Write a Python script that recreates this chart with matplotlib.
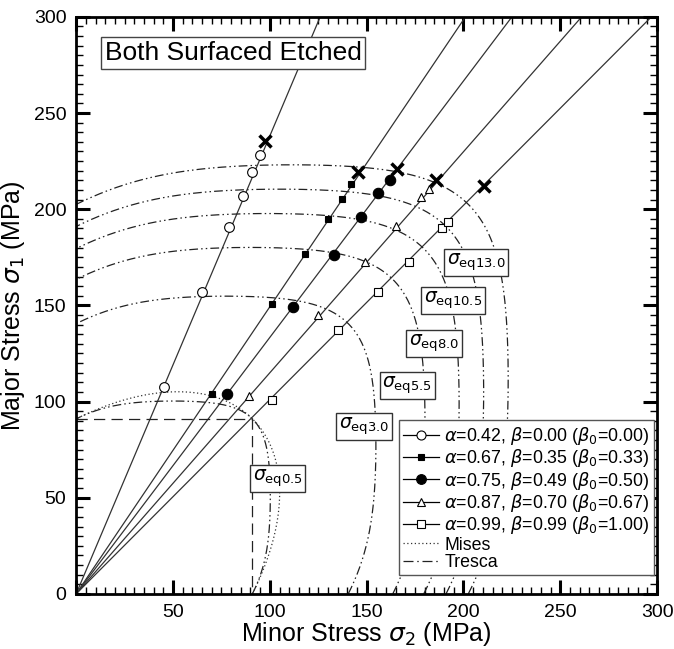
import numpy as np
import matplotlib
matplotlib.use('Agg')
import matplotlib.pyplot as plt
from matplotlib.lines import Line2D

# loading ratios (sigma2 / sigma1) and biaxiality for each test series
alphas = [0.42, 0.67, 0.75, 0.87, 0.99]
betas = [0.00, 0.35, 0.49, 0.70, 0.99]
beta0s = [0.00, 0.33, 0.50, 0.67, 1.00]

# measured points (sigma2, sigma1) in MPa
s2_pts = [
    [45.1, 65.2, 79.0, 85.9, 91.0, 95.0],
    [70.1, 101.0, 118.2, 130.1, 137.2, 142.1],
    [78.1, 112.2, 133.2, 147.1, 155.9, 162.1],
    [89.3, 125.1, 149.2, 165.1, 178.1, 182.4],
    [101.0, 135.4, 156.1, 172.1, 189.1, 192.2],
]
s1_pts = [
    [107.8, 156.9, 191.0, 207.0, 219.1, 228.3],
    [103.8, 150.8, 176.7, 195.0, 205.1, 212.9],
    [103.8, 148.9, 176.0, 196.2, 208.2, 215.3],
    [103.1, 145.1, 172.3, 191.4, 206.3, 210.5],
    [100.9, 137.0, 156.9, 172.8, 190.2, 193.1],
]
# fracture marks (X)
x_s2 = [97.6, 145.7, 165.6, 185.9, 210.8]
x_s1 = [235.2, 219.3, 221.0, 215.3, 212.2]

# equivalent stress loci
eq_names = ['0.5', '3.0', '5.5', '8.0', '10.5', '13.0']
eq_sigma = [91.0, 140.5, 163.5, 179.5, 191.0, 202.5]
eq_lab_x = [104.0, 148.7, 171.0, 185.0, 194.8, 206.4]
eq_lab_y = [59.9, 87.0, 108.3, 130.2, 152.7, 172.2]
hosford_a = 7
mises_sigma = 91.0

markers = ['o', 's', 'o', '^', 's']
msizes = [7, 5, 7.5, 6, 6]
mfaces = ['white', 'black', 'black', 'white', 'white']

plt.rcParams['font.family'] = ['Liberation Sans', 'DejaVu Sans']
plt.rcParams['mathtext.fontset'] = 'dejavusans'

fig = plt.figure(figsize=(6.74, 6.49), dpi=100)
ax = fig.add_axes([0.113, 0.085, 0.862, 0.889])

# straight loading paths
xx = np.linspace(0, 300, 400)
for i, a in enumerate(alphas):
    ax.plot(xx, xx / a, '-', color='#333333', lw=0.9, zorder=2)

# equivalent stress loci (Hosford-type)
th = np.linspace(0, np.pi / 2, 400)
c, s = np.cos(th), np.sin(th)
F = np.abs(c - s) ** hosford_a + c ** hosford_a + s ** hosford_a
for sig in eq_sigma:
    r = sig * (2.0 / F) ** (1.0 / hosford_a)
    ax.plot(r * c, r * s, color='#222222', lw=0.9,
            dashes=(7, 2.5, 1.2, 2.5, 1.2, 2.5), zorder=2)

# Mises and Tresca for the first level
rm = mises_sigma / np.sqrt(c ** 2 - c * s + s ** 2)
ax.plot(rm * c, rm * s, color='#333333', lw=0.9, dashes=(1, 2), zorder=2)
ax.plot([0, mises_sigma, mises_sigma], [mises_sigma, mises_sigma, 0],
        color='#222222', lw=0.9, dashes=(9, 5), zorder=2)

# data points
for i in range(5):
    ax.plot(s2_pts[i], s1_pts[i], linestyle='none', marker=markers[i],
            ms=msizes[i], mfc=mfaces[i], mec='black', mew=0.8, zorder=4)
ax.plot(x_s2, x_s1, linestyle='none', marker='x', ms=8.5, mew=2.5,
        color='black', zorder=5)

# labels of loci
for nm, lx, ly in zip(eq_names, eq_lab_x, eq_lab_y):
    ax.text(lx, ly, r'$\sigma_{\mathrm{eq}' + nm + '}$', fontsize=13.5,
            ha='center', va='center', zorder=6,
            bbox=dict(boxstyle='square,pad=0.15', fc='white', ec='#333333', lw=1))

ax.text(0.27, 0.937, 'Both Surfaced Etched', transform=ax.transAxes,
        fontsize=19, ha='center', va='center', zorder=6,
        bbox=dict(boxstyle='square,pad=0.15', fc='white', ec='#444444', lw=1))

# legend
handles = []
for i in range(5):
    lab = (r'$\alpha$=%.2f, $\beta$=%.2f ($\beta_0$=%.2f)'
           % (alphas[i], betas[i], beta0s[i]))
    handles.append(Line2D([], [], color='black', lw=0.9, marker=markers[i],
                          ms=msizes[i] - 0.5, mfc=mfaces[i], mec='black',
                          mew=0.8, label=lab))
handles.append(Line2D([], [], color='#333333', lw=0.9, dashes=(1, 2), label='Mises'))
handles.append(Line2D([], [], color='#222222', lw=0.9, dashes=(8, 3, 1.2, 3),
                      label='Tresca'))
leg = ax.legend(handles=handles, loc='lower right', bbox_to_anchor=(0.994, 0.032),
                borderaxespad=0, fancybox=False, framealpha=1, edgecolor='#555555',
                handlelength=2.0, handletextpad=0.3, labelspacing=0.02,
                borderpad=0.25, prop={'size': 12.8})
leg.get_frame().set_linewidth(1)
leg.set_zorder(7)

ax.set_xlim(0, 300)
ax.set_ylim(0, 300)
ax.set_xticks(np.arange(0, 301, 50))
ax.set_xticklabels(['', '50', '100', '150', '200', '250', '300'])
ax.set_yticks(np.arange(0, 301, 50))
ax.set_xticks(np.arange(0, 301, 5), minor=True)
ax.set_yticks(np.arange(0, 301, 5), minor=True)
ax.tick_params(which='major', direction='in', length=10, width=2.2,
               top=True, right=True, labelsize=14, pad=7)
ax.tick_params(which='minor', direction='in', length=5, width=1,
               top=True, right=True)
for sp in ax.spines.values():
    sp.set_linewidth(2)

ax.set_xlabel(r'Minor Stress $\sigma_2$ (MPa)', fontsize=18)
ax.set_ylabel(r'Major Stress $\sigma_1$ (MPa)', fontsize=18)
ax.xaxis.set_label_coords(0.5, -0.045)
ax.yaxis.set_label_coords(-0.084, 0.5)

fig.savefig('out.png', dpi=100)
